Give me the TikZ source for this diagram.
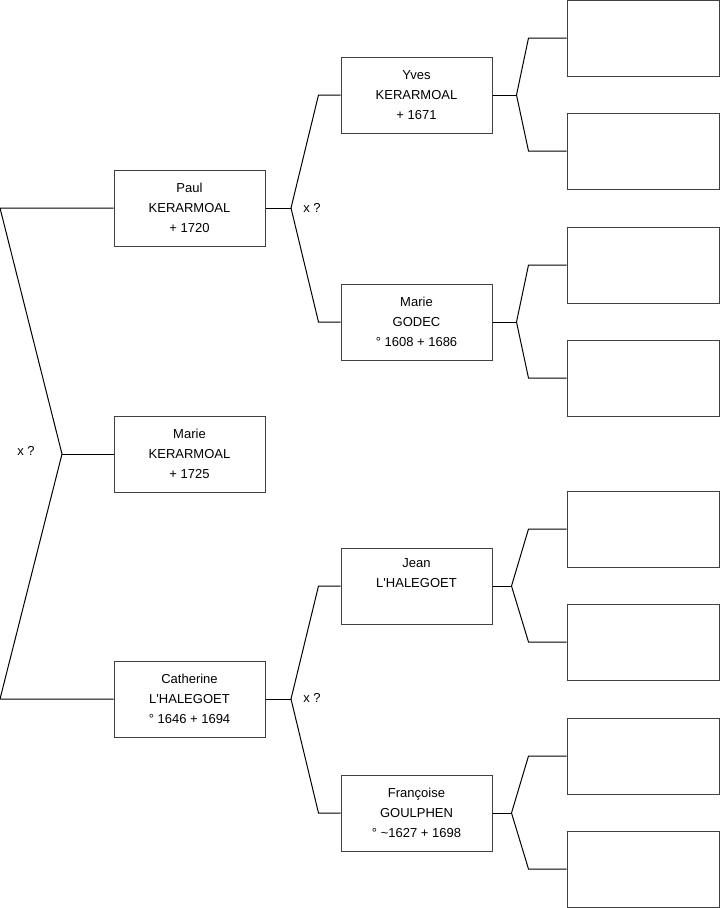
\documentclass[tikz,border=0pt]{standalone}
\usepackage{fontspec}
\setmainfont{Liberation Sans}
\usetikzlibrary{calc}
\tikzset{
    personne/.style={draw=black!75, line width=0.75pt, minimum width=113.25pt, minimum height=57pt, inner sep=0pt, align=center, font=\fontsize{9.75}{15}\selectfont},
    vide/.style={personne, minimum width=114pt},
    lien/.style={draw=black, line width=0.75pt},
    union/.style={font=\fontsize{9.75}{15}\selectfont, inner sep=0pt}
}

\begin{document}
\begin{tikzpicture}[x=0.75pt, y=-0.75pt]
    \useasboundingbox (0,0) rectangle (719,908);
    % generation 1
    \node[personne] (paul) at (189.5,208) {Paul\\KERARMOAL\\+ 1720};
    \node[personne] (marie) at (189.5,454) {Marie\\KERARMOAL\\+ 1725};
    \node[personne] (cath) at (189.5,699) {Catherine\\L\textquotesingle HALEGOET\\° 1646 + 1694};
    % generation 2
    \node[personne] (yves) at (416.5,95) {Yves\\KERARMOAL\\+ 1671};
    \node[personne] (godec) at (416.5,322) {Marie\\GODEC\\° 1608 + 1686};
    \node[personne] (jean) at (416.5,586) {Jean\\L\textquotesingle HALEGOET\\\strut};
    \node[personne] (franc) at (416.5,813) {Françoise\\GOULPHEN\\° \textasciitilde 1627 + 1698};
    % generation 3 (vides)
    \node[vide] (e1) at (643,38) {};
    \node[vide] (e2) at (643,151) {};
    \node[vide] (e3) at (643,265) {};
    \node[vide] (e4) at (643,378) {};
    \node[vide] (e5) at (643,529) {};
    \node[vide] (e6) at (643,642) {};
    \node[vide] (e7) at (643,756) {};
    \node[vide] (e8) at (643,869) {};

    % fratrie
    \coordinate (f1) at (0,208);
    \coordinate (fm) at (62,454);
    \coordinate (f2) at (0,699);
    \draw[lien] (paul.west) -- (f1) -- (fm) -- (f2) -- (cath.west);
    \draw[lien] (fm) -- (marie.west);
    \node[union] at (26,451) {x ?};

    % parents
    \coordinate (pp) at (291,208);
    \draw[lien] (paul.east) -- (pp);
    \draw[lien] (yves.west) -- ++(-22,0) -- (pp) -- ($(godec.west)+(-22,0)$) -- (godec.west);
    \node[union] at (312,208) {x ?};
    \coordinate (pc) at (291,699);
    \draw[lien] (cath.east) -- (pc);
    \draw[lien] (jean.west) -- ++(-22,0) -- (pc) -- ($(franc.west)+(-22,0)$) -- (franc.west);
    \node[union] at (312,698) {x ?};

    % grands-parents
    \foreach \p/\a/\b/\s in {yves/e1/e2/24, godec/e3/e4/24, jean/e5/e6/19, franc/e7/e8/19} {
        \coordinate (k) at ($(\p.east)+(\s,0)$);
        \draw[lien] (\p.east) -- (k);
        \draw[lien] (\a.west) -- ++(-38,0) -- (k) -- ($(\b.west)+(-38,0)$) -- (\b.west);
    }
\end{tikzpicture}
\end{document}
